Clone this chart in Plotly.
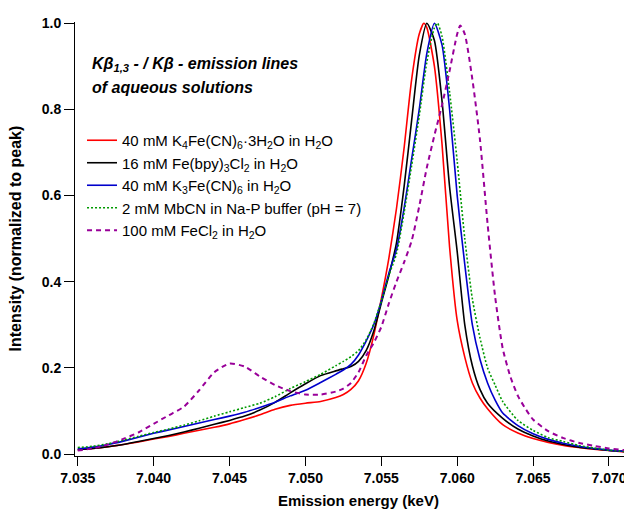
import plotly.graph_objects as go

# ---------------- data ----------------
E_pre = [7.035, 7.036, 7.037, 7.038, 7.039, 7.040, 7.041, 7.042, 7.043, 7.044,
         7.045, 7.046, 7.047, 7.048, 7.049, 7.050, 7.051, 7.052, 7.0525, 7.053,
         7.0535, 7.054, 7.0545, 7.055, 7.0555, 7.056, 7.0565, 7.057]
E_tail = [7.063, 7.064, 7.065, 7.066, 7.067, 7.068, 7.069, 7.070, 7.071]

energy_red = E_pre + [7.0575, 7.0578, 7.058, 7.0585, 7.059, 7.0595, 7.060, 7.0605,
                      7.061, 7.0615, 7.062] + E_tail
int_red = [0.010, 0.013, 0.017, 0.022, 0.028, 0.035, 0.041, 0.048, 0.055, 0.062,
           0.070, 0.080, 0.091, 0.104, 0.113, 0.118, 0.122, 0.131, 0.138, 0.150,
           0.170, 0.210, 0.275, 0.360, 0.455, 0.570, 0.710, 0.870,
           0.975, 1.000, 0.990, 0.900, 0.720, 0.480, 0.310, 0.225,
           0.165, 0.130, 0.105,
           0.068, 0.049, 0.036, 0.027, 0.020, 0.015, 0.011, 0.008, 0.005]

energy_black = E_pre + [7.0575, 7.058, 7.0585, 7.059, 7.0595, 7.060, 7.0605,
                        7.061, 7.0615, 7.062] + E_tail
int_black = [0.010, 0.013, 0.017, 0.022, 0.029, 0.036, 0.043, 0.051, 0.060, 0.069,
             0.078, 0.088, 0.102, 0.120, 0.142, 0.163, 0.182, 0.193, 0.198, 0.203,
             0.215, 0.240, 0.285, 0.350, 0.415, 0.490, 0.620, 0.775,
             0.925, 1.000, 0.960, 0.820, 0.620, 0.470, 0.300,
             0.205, 0.150, 0.118,
             0.083, 0.058, 0.042, 0.030, 0.022, 0.016, 0.012, 0.008, 0.006]

energy_blue = E_pre + [7.0575, 7.058, 7.0585, 7.059, 7.0595, 7.060, 7.0605,
                       7.061, 7.0615, 7.062, 7.0625] + E_tail
int_blue = [0.012, 0.016, 0.022, 0.030, 0.039, 0.048, 0.056, 0.064, 0.072, 0.080,
            0.088, 0.097, 0.108, 0.120, 0.135, 0.148, 0.166, 0.185, 0.195, 0.208,
            0.230, 0.262, 0.300, 0.355, 0.420, 0.475, 0.570, 0.685,
            0.800, 0.930, 1.000, 0.950, 0.800, 0.600, 0.440,
            0.300, 0.220, 0.165, 0.125,
            0.095, 0.066, 0.047, 0.034, 0.025, 0.018, 0.013, 0.009, 0.006]

energy_green = E_pre + [7.0575, 7.058, 7.0585, 7.0587, 7.059, 7.0595, 7.060, 7.0605,
                        7.061, 7.0615, 7.062, 7.0625] + E_tail
int_green = [0.015, 0.018, 0.024, 0.032, 0.041, 0.050, 0.058, 0.067, 0.077, 0.088,
             0.098, 0.108, 0.118, 0.133, 0.152, 0.168, 0.185, 0.205, 0.215, 0.226,
             0.240, 0.265, 0.302, 0.355, 0.415, 0.465, 0.560, 0.670,
             0.785, 0.910, 0.990, 1.000, 0.970, 0.840, 0.680, 0.500,
             0.360, 0.270, 0.200, 0.160,
             0.122, 0.078, 0.055, 0.038, 0.029, 0.020, 0.014, 0.009, 0.006]

energy_purple = E_pre + [7.0575, 7.058, 7.0585, 7.059, 7.0595, 7.060, 7.0602, 7.0605,
                         7.061, 7.0615, 7.062, 7.0625, 7.063, 7.0635, 7.064, 7.0645,
                         7.065, 7.066, 7.067, 7.068, 7.069, 7.070, 7.071]
int_purple = [0.008, 0.013, 0.022, 0.035, 0.050, 0.070, 0.090, 0.110, 0.148, 0.190,
              0.210, 0.203, 0.180, 0.160, 0.146, 0.138, 0.138, 0.145, 0.152, 0.165,
              0.190, 0.228, 0.258, 0.295, 0.350, 0.400, 0.445, 0.495,
              0.575, 0.665, 0.740, 0.810, 0.890, 0.975, 0.995, 0.975,
              0.870, 0.730, 0.535, 0.365, 0.245, 0.180, 0.135, 0.105,
              0.080, 0.053, 0.037, 0.026, 0.019, 0.013, 0.009]

names = [
    "40 mM K<sub>4</sub>Fe(CN)<sub>6</sub>·3H<sub>2</sub>O in H<sub>2</sub>O",
    "16 mM Fe(bpy)<sub>3</sub>Cl<sub>2</sub> in H<sub>2</sub>O",
    "40 mM K<sub>3</sub>Fe(CN)<sub>6</sub> in H<sub>2</sub>O",
    "2 mM MbCN in Na-P buffer (pH = 7)",
    "100 mM FeCl<sub>2</sub> in H<sub>2</sub>O",
]
x_ticks = [7.035, 7.040, 7.045, 7.050, 7.055, 7.060, 7.065, 7.070]
y_ticks = [0.0, 0.2, 0.4, 0.6, 0.8, 1.0]

# ---------------- figure ----------------
FONT = "Liberation Sans, Arial, sans-serif"
series = [
    (energy_red, int_red, "#ff0000", "solid", 1.6),
    (energy_black, int_black, "#000000", "solid", 1.6),
    (energy_blue, int_blue, "#0000cc", "solid", 1.6),
    (energy_green, int_green, "#009900", "2px,2px", 1.6),
    (energy_purple, int_purple, "#990099", "5px,4px", 2.0),
]

fig = go.Figure()
for (x, y, c, d, w), n in zip(series, names):
    fig.add_trace(go.Scatter(
        x=x, y=y, mode="lines", name=n,
        line=dict(color=c, dash=d, width=w, shape="spline", smoothing=0.6),
    ))

fig.update_layout(
    width=624, height=514,
    margin=dict(l=75, r=0, t=22, b=58, autoexpand=False),
    paper_bgcolor="white", plot_bgcolor="white",
    font=dict(family=FONT, color="black"),
    showlegend=True,
    legend=dict(
        x=0.0128, y=0.765, xanchor="left", yanchor="top",
        bgcolor="rgba(0,0,0,0)", borderwidth=0,
        font=dict(family=FONT, size=15, color="black"),
        tracegroupgap=0, itemwidth=30,
    ),
    xaxis=dict(
        range=[7.03482, 7.07099], tickvals=x_ticks, tickformat=".3f",
        showline=True, linecolor="black", linewidth=1,
        ticks="outside", ticklen=9, tickcolor="black", tickwidth=1,
        showgrid=False, zeroline=False, mirror=False, automargin=False,
        ticklabeloverflow="allow",
        tickfont=dict(family=FONT, size=14, weight="bold"),
    ),
    yaxis=dict(
        range=[-0.0046, 1.003], tickvals=y_ticks, tickformat=".1f",
        showline=True, linecolor="black", linewidth=1,
        ticks="outside", ticklen=10, tickcolor="black", tickwidth=1,
        showgrid=False, zeroline=False, mirror=False, automargin=False,
        tickfont=dict(family=FONT, size=14, weight="bold"),
    ),
)

# axis titles
fig.add_annotation(
    xref="paper", yref="paper", x=0.5155, y=-0.1014, xanchor="center", yanchor="middle",
    showarrow=False, text="<b>Emission energy (keV)</b>",
    font=dict(family=FONT, size=15, color="black"),
)
fig.add_annotation(
    xref="paper", yref="paper", x=-0.1084, y=0.5023, xanchor="center", yanchor="middle",
    showarrow=False, textangle=-90, text="<b>Intensity (normalized to peak)</b>",
    font=dict(family=FONT, size=16, color="black"),
)

# in-plot caption
fig.add_annotation(
    xref="paper", yref="paper", x=0.027, y=0.901, xanchor="left", yanchor="middle",
    align="left", showarrow=False,
    text="<b><i>Kβ<sub>1,3</sub> - / Kβ - emission lines</i></b>",
    font=dict(family=FONT, size=16, color="black"),
)
fig.add_annotation(
    xref="paper", yref="paper", x=0.027, y=0.848, xanchor="left", yanchor="middle",
    align="left", showarrow=False,
    text="<b><i>of aqueous solutions</i></b>",
    font=dict(family=FONT, size=16, color="black"),
)

fig.write_html(
    "out.html",
    config={"displayModeBar": False},
    post_script="document.body.style.margin='0';document.body.style.overflow='hidden';",
)
